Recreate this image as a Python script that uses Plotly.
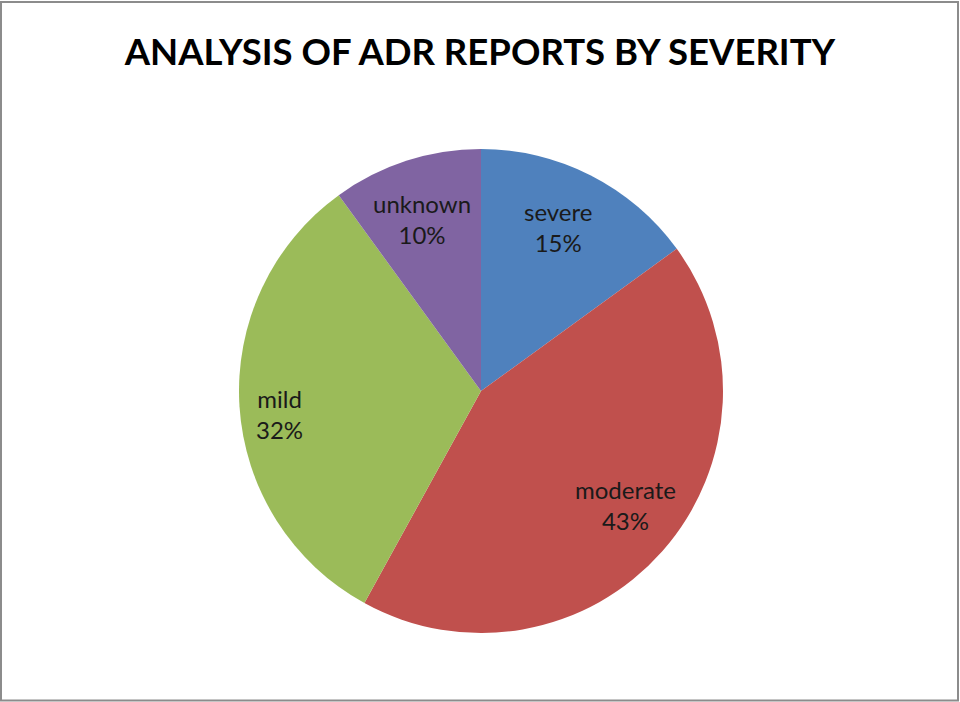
import math
import plotly.graph_objects as go

labels = ["severe", "moderate", "mild", "unknown"]
values = [15, 43, 32, 10]
colors = ["#4F81BD", "#C0504D", "#9BBB59", "#8064A2"]
title_text = "ANALYSIS OF ADR REPORTS BY SEVERITY"

W, H = 960, 702
cx, cy, r = 481, 391, 242
label_radius = [0.75, 0.76, 0.84, 0.75]
label_angle_shift = [-2, -3, -3, -1]  # degrees, fine placement tweak

fig = go.Figure(go.Pie(
    labels=labels,
    values=values,
    sort=False,
    direction="clockwise",
    rotation=0,
    marker=dict(colors=colors, line=dict(width=0)),
    textinfo="none",
    hoverinfo="label+percent",
    showlegend=False,
    domain=dict(x=[(cx - r) / W, (cx + r) / W], y=[(H - cy - r) / H, (H - cy + r) / H]),
))

total = sum(values)
annotations = []
cum = 0
for lab, v, fr, sh in zip(labels, values, label_radius, label_angle_shift):
    mid = (cum + v / 2) / total * 2 * math.pi + math.radians(sh)
    cum += v
    px = cx + math.sin(mid) * r * fr
    py = cy - math.cos(mid) * r * fr
    annotations.append(dict(
        x=px / W, y=1 - py / H, xref="paper", yref="paper",
        text=f"{lab}<br>{round(v / total * 100)}%", showarrow=False,
        xanchor="center", yanchor="middle", align="center",
        font=dict(family="Lato", size=24, color="#1a1a1a"),
    ))

fig.update_layout(
    width=W, height=H,
    margin=dict(l=0, r=0, t=0, b=0),
    paper_bgcolor="white",
    title=dict(text="<b>" + title_text + "</b>", x=0.5, xanchor="center",
               y=1 - 52 / H, yanchor="middle",
               font=dict(family="Lato", size=36.5, color="#000000")),
    annotations=annotations,
    shapes=[dict(type="rect", xref="paper", yref="paper",
                 x0=1 / W, x1=958 / W, y0=1.5 / H, y1=700 / H,
                 line=dict(color="#8c8c8c", width=2))],
)

fig.write_html("out.html", config={"displayModeBar": False},
               post_script="document.body.style.margin='0';document.body.style.overflow='hidden';")
